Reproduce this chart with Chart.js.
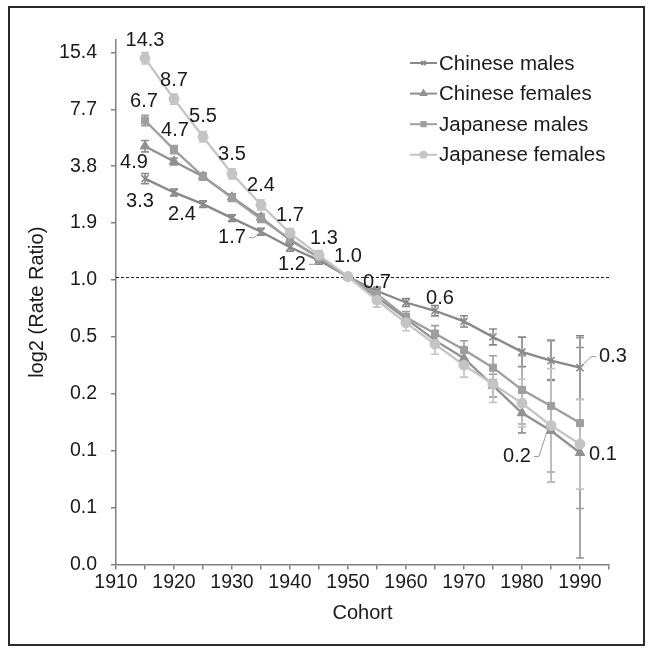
<!DOCTYPE html>
<html>
<head>
<meta charset="utf-8">
<script src="https://cdn.jsdelivr.net/npm/chart.js@4/dist/chart.umd.min.js"></script>
<style>
  body { margin: 0; background: #fff; }
  canvas { display: block; }
</style>
</head>
<body>
<canvas id="myChart" width="652" height="660"></canvas>
<script>
// Data
// =======================================================
var cohorts = [1915, 1920, 1925, 1930, 1935, 1940, 1945, 1950, 1955, 1960, 1965, 1970, 1975, 1980, 1985, 1990];
var seriesNames = ["Chinese males", "Chinese females", "Japanese males", "Japanese females"];

var chineseMales    = [3.3, 2.79, 2.42, 2.04, 1.73, 1.43, 1.22, 1.0, 0.84, 0.73, 0.66, 0.58, 0.48, 0.40, 0.36, 0.33];
var chineseFemales  = [4.9, 4.07, 3.39, 2.63, 2.06, 1.56, 1.26, 1.0, 0.78, 0.60, 0.46, 0.37, 0.265, 0.19, 0.153, 0.117];
var japaneseMales   = [6.7, 4.7, 3.39, 2.61, 2.02, 1.58, 1.26, 1.0, 0.81, 0.61, 0.50, 0.41, 0.33, 0.252, 0.207, 0.168];
var japaneseFemales = [14.3, 8.7, 5.5, 3.5, 2.4, 1.7, 1.3, 1.0, 0.75, 0.57, 0.44, 0.34, 0.27, 0.214, 0.163, 0.130];

// error bar half widths, in log2 units
var chineseMalesErr    = [0.09, 0.06, 0.06, 0.06, 0.06, 0.07, 0.07, 0, 0.07, 0.07, 0.09, 0.10, 0.14, 0.26, 0.35, 0.56];
var chineseFemalesErr  = [0.10, 0.06, 0.06, 0.06, 0.06, 0.07, 0.07, 0, 0.09, 0.09, 0.10, 0.14, 0.20, 0.35, 0.90, 1.85];
var japaneseMalesErr   = [0.09, 0.07, 0.06, 0.06, 0.06, 0.07, 0.07, 0, 0.09, 0.10, 0.14, 0.16, 0.21, 0.60, 1.16, 1.50];
var japaneseFemalesErr = [0.10, 0.09, 0.09, 0.09, 0.09, 0.08, 0.08, 0, 0.12, 0.14, 0.18, 0.21, 0.32, 0.42, 1.00, 0.79];

// axis ticks
var yTickValues = [0.03, 0.06, 0.12, 0.24, 0.48, 0.96, 1.92, 3.84, 7.68, 15.36];
var yTickLabels = ["0.0", "0.1", "0.1", "0.2", "0.5", "1.0", "1.9", "3.8", "7.7", "15.4"];
var yMin = 0.03;
var yMax = 17.87;
var xTickLabels = [1910, 1920, 1930, 1940, 1950, 1960, 1970, 1980, 1990];
var xMin = 1910;
var xMax = 1995;

// value labels: series index, point index, text
var labelSeries = [3, 3, 3, 3, 3, 3, 3, 3, 2, 2, 1, 0, 0, 0, 0, 0, 0, 0, 1, 3];
var labelPoints = [0, 1, 2, 3, 4, 5, 6, 7, 0, 1, 0, 0, 2, 4, 6, 9, 11, 15, 15, 14];
var labelTexts  = ["14.3", "8.7", "5.5", "3.5", "2.4", "1.7", "1.3", "1.0", "6.7", "4.7", "4.9",
                   "3.3", "2.4", "1.7", "1.2", "0.7", "0.6", "0.3", "0.1", "0.2"];

// Styles
// =======================================================
var FONT = "'Liberation Sans', Arial, sans-serif";
var colors = ["#888888", "#919191", "#9e9e9e", "#c4c4c4"];
var markers = ["crossRot", "triangle", "rect", "circle"];
var radii = [5, 5.5, 5, 5];
var drawOrder = [3, 2, 1, 0];
var labelOffsets = [[0, -18], [0, -19], [0, -20], [0, -19], [0, -19], [0, -18], [5, -17], [0, -20],
                    [-1, -19], [1, -19], [-11, 16], [-5, 23], [-21, 10], [-29, 6], [-27, 4],
                    [-29, -20], [-24, -23], [33, -11], [23, 2], [-34, 31]];
var labelLeaders = [false, false, false, false, false, false, false, false, false, false, false,
                    false, false, true, true, false, false, true, false, true];

var allValues = [chineseMales, chineseFemales, japaneseMales, japaneseFemales];
var allErrors = [chineseMalesErr, chineseFemalesErr, japaneseMalesErr, japaneseFemalesErr];

var datasets = allValues.map(function (vals, d) {
    return {
        label: seriesNames[d],
        data: vals.map(function (v, i) { return { x: cohorts[i], y: v }; }),
        borderColor: colors[d],
        backgroundColor: colors[d],
        borderWidth: 2.3,
        pointStyle: markers[d],
        pointRadius: radii[d],
        pointBorderWidth: d === 0 ? 1.6 : 1,
        pointBackgroundColor: colors[d],
        pointBorderColor: colors[d],
        order: drawOrder[d],
        tension: 0
    };
});

// Error bars and the dashed line at ratio 1
// =======================================================
var errorBars = {
    id: "errorBars",
    beforeDatasetsDraw: function (chart) {
        var ctx = chart.ctx;
        var area = chart.chartArea;
        var yScale = chart.scales.y;
        ctx.save();

        var y1 = Math.round(yScale.getPixelForValue(1)) + 0.5;
        ctx.strokeStyle = "#222";
        ctx.lineWidth = 1;
        ctx.setLineDash([3, 2]);
        ctx.beginPath();
        ctx.moveTo(area.left, y1);
        ctx.lineTo(area.right, y1);
        ctx.stroke();
        ctx.setLineDash([]);

        allValues.forEach(function (vals, d) {
            var meta = chart.getDatasetMeta(d);
            ctx.strokeStyle = colors[d];
            ctx.lineWidth = 1.6;
            vals.forEach(function (v, i) {
                var e = allErrors[d][i];
                if (!e) return;
                var px = meta.data[i].x;
                var top = yScale.getPixelForValue(v * Math.pow(2, e));
                var bot = yScale.getPixelForValue(v / Math.pow(2, e));
                ctx.beginPath();
                ctx.moveTo(px, top); ctx.lineTo(px, bot);
                ctx.moveTo(px - 4, top); ctx.lineTo(px + 4, top);
                ctx.moveTo(px - 4, bot); ctx.lineTo(px + 4, bot);
                ctx.stroke();
            });
        });
        ctx.restore();
    }
};

// Value labels, legend, axis titles and frame
// =======================================================
var extras = {
    id: "extras",
    afterDatasetsDraw: function (chart) {
        var ctx = chart.ctx;
        ctx.save();
        ctx.font = "20px " + FONT;
        ctx.fillStyle = "#1a1a1a";
        ctx.textAlign = "center";
        ctx.textBaseline = "middle";
        labelTexts.forEach(function (text, k) {
            var pt = chart.getDatasetMeta(labelSeries[k]).data[labelPoints[k]];
            var lx = pt.x + labelOffsets[k][0];
            var ly = pt.y + labelOffsets[k][1];
            ctx.fillText(text, lx, ly);
            if (labelLeaders[k]) {
                var half = ctx.measureText(text).width / 2 + 3;
                var side = labelOffsets[k][0] < 0 ? 1 : -1;
                var sx = lx + side * half;
                ctx.strokeStyle = "#9a9a9a";
                ctx.lineWidth = 1;
                ctx.beginPath();
                ctx.moveTo(sx, ly);
                ctx.lineTo(sx + side * 5, ly);
                var ex = pt.x - side * 3, ey = pt.y + (ly > pt.y ? 3 : -3);
                ctx.lineTo(ex, ey);
                ctx.stroke();
            }
        });
        ctx.restore();
    },
    afterDraw: function (chart) {
        var ctx = chart.ctx;
        var area = chart.chartArea;
        ctx.save();

        // legend
        ctx.font = "20.5px " + FONT;
        ctx.textAlign = "left";
        ctx.textBaseline = "middle";
        seriesNames.forEach(function (name, d) {
            var ry = 63 + d * 30.6;
            ctx.strokeStyle = colors[d];
            ctx.lineWidth = 2;
            ctx.beginPath();
            ctx.moveTo(410, ry);
            ctx.lineTo(437, ry);
            ctx.stroke();
            ctx.fillStyle = colors[d];
            Chart.helpers.drawPoint(ctx, { pointStyle: markers[d], radius: 3, borderWidth: 1 }, 423.5, ry);
            ctx.fillStyle = "#1a1a1a";
            ctx.fillText(name, 439, ry + 1);
        });

        // axis titles
        ctx.font = "20px " + FONT;
        ctx.fillStyle = "#1a1a1a";
        ctx.textAlign = "center";
        ctx.fillText("Cohort", (area.left + area.right) / 2, 613);
        ctx.translate(37, (area.top + area.bottom) / 2);
        ctx.rotate(-Math.PI / 2);
        ctx.fillText("log2 (Rate Ratio)", 0, 0);
        ctx.restore();

        // frame
        ctx.save();
        ctx.strokeStyle = "#2a2a2a";
        ctx.lineWidth = 2;
        ctx.strokeRect(9, 7, 635, 638);
        ctx.restore();
    }
};

// Chart
// =======================================================
var ctx = document.getElementById("myChart");

var myChart = new Chart(ctx, {
    type: "line",
    data: { datasets: datasets },
    plugins: [errorBars, extras],
    options: {
        responsive: false,
        animation: false,
        layout: { padding: { left: 0, right: 43, top: 40, bottom: 0 } },
        plugins: {
            legend: { display: false },
            tooltip: { enabled: false }
        },
        scales: {
            x: {
                type: "linear",
                min: xMin,
                max: xMax,
                afterFit: function (scale) { scale.height = 95.5; },
                ticks: {
                    stepSize: 5,
                    autoSkip: false,
                    maxRotation: 0,
                    padding: 1,
                    color: "#1a1a1a",
                    font: { family: FONT, size: 19.5 },
                    callback: function (v) { return xTickLabels.indexOf(v) >= 0 ? String(v) : ""; }
                },
                grid: { drawOnChartArea: false, tickLength: 5, color: "#808080", lineWidth: 1.5 },
                border: { color: "#808080", width: 1.5 }
            },
            y: {
                type: "logarithmic",
                min: yMin,
                max: yMax,
                afterFit: function (scale) { scale.width = 116; },
                afterBuildTicks: function (scale) {
                    scale.ticks = yTickValues.map(function (v) { return { value: v }; });
                },
                ticks: {
                    autoSkip: false,
                    padding: 14,
                    color: "#1a1a1a",
                    font: { family: FONT, size: 19.5 },
                    callback: function (v, i) { return yTickLabels[i]; }
                },
                grid: { drawOnChartArea: false, tickLength: 5, color: "#808080", lineWidth: 1.5 },
                border: { color: "#808080", width: 1.5 }
            }
        }
    }
});
</script>
</body>
</html>
